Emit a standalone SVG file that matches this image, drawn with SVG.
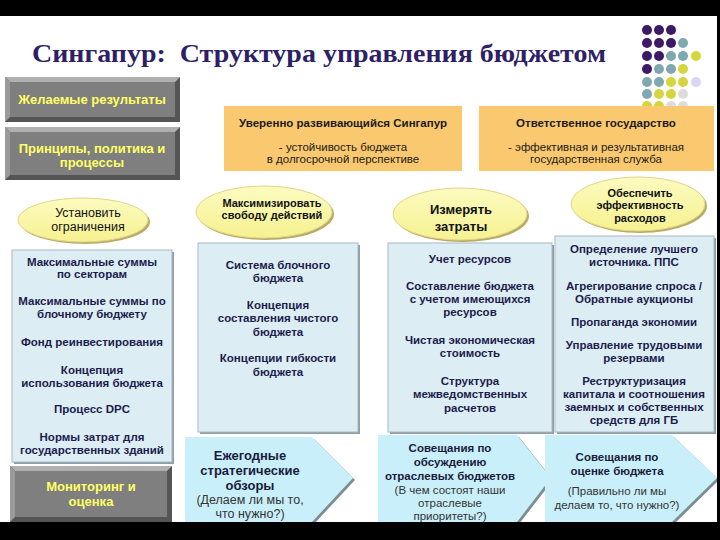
<svg xmlns="http://www.w3.org/2000/svg" width="720" height="540" viewBox="0 0 720 540">
<style>
.t{font-family:"Liberation Sans",Arial,sans-serif;text-anchor:middle}
.b{font-weight:bold}
.btn{font-size:13px;fill:#ffff66;font-weight:bold}
.lst{font-size:11.5px;fill:#1c1c4c;font-weight:bold}
.org{font-size:11.5px;fill:#1a1a1a}
.ov{font-size:11px;fill:#111;font-weight:bold}
.ar{fill:#1a1a3a}
.lbox{fill:#ddedf4;stroke:#a9b8c2;stroke-width:1}
.lsh{fill:#8e9ca6}
.oval{stroke:#e0d58a;stroke-width:1}
.osh{fill:#b9ab62}
.arr{fill:#c9f0fa}
.ash{fill:#7d8d93}
.orng{fill:#fac96f}
</style>
<defs>
<linearGradient id="og" x1="0" y1="0" x2="0" y2="1">
<stop offset="0" stop-color="#fcfbc0"/><stop offset="1" stop-color="#f6f190"/>
</linearGradient>
</defs>
<rect width="720" height="540" fill="#ffffff"/>

<g id="title">
<text x="319" y="62" font-family="Liberation Serif,Times New Roman,serif" font-weight="bold" font-size="26" fill="#2e1f66" text-anchor="middle" style="white-space:pre" xml:space="preserve" textLength="574" lengthAdjust="spacingAndGlyphs">Сингапур:  Структура управления бюджетом</text>
</g>

<g id="dots">
<circle cx="647" cy="30" r="5" fill="#3d1a66"/><circle cx="659" cy="30" r="5" fill="#3d1a66"/><circle cx="671" cy="30" r="5" fill="#3d1a66"/>
<circle cx="647" cy="43" r="5" fill="#3d1a66"/><circle cx="659" cy="43" r="5" fill="#3d1a66"/><circle cx="671" cy="43" r="5" fill="#3d1a66"/><circle cx="683" cy="43" r="5" fill="#7fa8b0"/>
<circle cx="647" cy="56" r="5" fill="#3d1a66"/><circle cx="659" cy="56" r="5" fill="#3d1a66"/><circle cx="671" cy="56" r="5" fill="#7fa8b0"/><circle cx="683" cy="56" r="5" fill="#7fa8b0"/><circle cx="696" cy="56" r="5" fill="#d6d63c"/>
<circle cx="647" cy="69" r="5" fill="#3d1a66"/><circle cx="659" cy="69" r="5" fill="#7fa8b0"/><circle cx="671" cy="69" r="5" fill="#7fa8b0"/><circle cx="683" cy="69" r="5" fill="#d6d63c"/>
<circle cx="647" cy="82" r="5" fill="#7fa8b0"/><circle cx="659" cy="82" r="5" fill="#7fa8b0"/><circle cx="671" cy="82" r="5" fill="#d6d63c"/><circle cx="683" cy="82" r="5" fill="#d6d63c"/><circle cx="696" cy="82" r="5" fill="#d8d8f2"/>
<circle cx="647" cy="94" r="5" fill="#7fa8b0"/><circle cx="659" cy="94" r="5" fill="#d6d63c"/><circle cx="671" cy="94" r="5" fill="#d6d63c"/><circle cx="683" cy="94" r="5" fill="#dcdcdc"/>
<circle cx="647" cy="106" r="5" fill="#d6d63c"/><circle cx="659" cy="106" r="5" fill="#d6d63c"/><circle cx="671" cy="106" r="5" fill="#dcdcdc"/><circle cx="683" cy="106" r="5" fill="#dcdcdc"/>
</g>

<g id="btn-results">
<rect x="5" y="77" width="175" height="45" fill="#555555"/>
<polygon points="5,77 180,77 175,82 10,82" fill="#b0b0b0"/>
<polygon points="5,77 10,82 10,117 5,122" fill="#9a9a9a"/>
<rect x="10" y="82" width="165" height="35" fill="#7f7f7f"/>
<text class="t btn" x="92" y="104">Желаемые результаты</text>
</g>

<g id="btn-principles">
<rect x="5" y="127" width="175" height="53" fill="#555555"/>
<polygon points="5,127 180,127 175,132 10,132" fill="#b0b0b0"/>
<polygon points="5,127 10,132 10,175 5,180" fill="#9a9a9a"/>
<rect x="10" y="132" width="165" height="43" fill="#7f7f7f"/>
<text class="t btn" x="92" y="153">Принципы, политика и</text>
<text class="t btn" x="92" y="167">процессы</text>
</g>

<g id="btn-monitoring">
<rect x="10" y="466" width="162" height="56" fill="#555555"/>
<polygon points="10,466 172,466 167,471 15,471" fill="#b0b0b0"/>
<polygon points="10,466 15,471 15,517 10,522" fill="#9a9a9a"/>
<rect x="15" y="471" width="152" height="46" fill="#7f7f7f"/>
<text class="t btn" x="91" y="491">Мониторинг и</text>
<text class="t btn" x="91" y="506">оценка</text>
</g>

<g id="goal-a">
<rect class="orng" x="224" y="106" width="238" height="65"/>
<text class="t org b" x="343" y="127" font-size="12.5">Уверенно развивающийся Сингапур</text>
<text class="t org" x="343" y="151">- устойчивость бюджета</text>
<text class="t org" x="343" y="163">в долгосрочной перспективе</text>
</g>

<g id="goal-b">
<rect class="orng" x="479" y="106" width="235" height="65"/>
<text class="t org b" x="596" y="127" font-size="12.5">Ответственное государство</text>
<text class="t org" x="596" y="151">- эффективная и результативная</text>
<text class="t org" x="596" y="163">государственная служба</text>
</g>

<g id="oval-limits">
<ellipse class="osh" cx="85" cy="222" rx="65" ry="22"/>
<ellipse class="oval" cx="83" cy="220" rx="65" ry="22" fill="url(#og)"/>
<text class="t" x="88" y="217" font-size="12.5" fill="#111">Установить</text>
<text class="t" x="88" y="231" font-size="12.5" fill="#111">ограничения</text>
</g>

<g id="oval-freedom">
<ellipse class="osh" cx="266" cy="214" rx="68" ry="26"/>
<ellipse class="oval" cx="264" cy="212" rx="68" ry="26" fill="url(#og)"/>
<text class="t ov" x="272" y="207">Максимизировать</text>
<text class="t ov" x="272" y="219">свободу действий</text>
</g>

<g id="oval-costs">
<ellipse class="osh" cx="462" cy="216" rx="67" ry="26"/>
<ellipse class="oval" cx="460" cy="214" rx="67" ry="26" fill="url(#og)"/>
<text class="t b" x="461" y="214" font-size="13" fill="#111">Измерять</text>
<text class="t b" x="461" y="231" font-size="13" fill="#111">затраты</text>
</g>

<g id="oval-efficiency">
<ellipse class="osh" cx="640" cy="206" rx="67" ry="27"/>
<ellipse class="oval" cx="638" cy="204" rx="67" ry="27" fill="url(#og)"/>
<text class="t ov" x="640" y="197">Обеспечить</text>
<text class="t ov" x="640" y="209">эффективность</text>
<text class="t ov" x="640" y="222">расходов</text>
</g>

<g id="list-limits">
<rect class="lsh" x="14" y="252" width="160" height="212"/>
<rect class="lbox" x="12" y="250" width="160" height="212"/>
<text class="t lst" x="92" y="266">Максимальные суммы</text>
<text class="t lst" x="92" y="278">по секторам</text>
<text class="t lst" x="92" y="305">Максимальные суммы по</text>
<text class="t lst" x="92" y="318">блочному бюджету</text>
<text class="t lst" x="92" y="346">Фонд реинвестирования</text>
<text class="t lst" x="92" y="374">Концепция</text>
<text class="t lst" x="92" y="387">использования бюджета</text>
<text class="t lst" x="92" y="413">Процесс DPC</text>
<text class="t lst" x="92" y="441">Нормы затрат для</text>
<text class="t lst" x="92" y="454">государственных зданий</text>
</g>

<g id="list-freedom">
<rect class="lsh" x="200" y="245" width="160" height="189"/>
<rect class="lbox" x="198" y="243" width="160" height="189"/>
<text class="t lst" x="278" y="269">Система блочного</text>
<text class="t lst" x="278" y="282">бюджета</text>
<text class="t lst" x="278" y="309">Концепция</text>
<text class="t lst" x="278" y="322">составления чистого</text>
<text class="t lst" x="278" y="336">бюджета</text>
<text class="t lst" x="278" y="362">Концепции гибкости</text>
<text class="t lst" x="278" y="376">бюджета</text>
</g>

<g id="list-costs">
<rect class="lsh" x="390" y="245" width="164" height="189"/>
<rect class="lbox" x="388" y="243" width="164" height="189"/>
<text class="t lst" x="470" y="263">Учет ресурсов</text>
<text class="t lst" x="470" y="290">Составление бюджета</text>
<text class="t lst" x="470" y="303">с учетом имеющихся</text>
<text class="t lst" x="470" y="316">ресурсов</text>
<text class="t lst" x="470" y="344">Чистая экономическая</text>
<text class="t lst" x="470" y="357">стоимость</text>
<text class="t lst" x="470" y="385">Структура</text>
<text class="t lst" x="470" y="398">межведомственных</text>
<text class="t lst" x="470" y="412">расчетов</text>
</g>

<g id="list-efficiency">
<rect class="lsh" x="557" y="238" width="159" height="196"/>
<rect class="lbox" x="555" y="236" width="159" height="196"/>
<text class="t lst" x="634" y="253">Определение лучшего</text>
<text class="t lst" x="634" y="266">источника. ППС</text>
<text class="t lst" x="634" y="290">Агрегирование спроса /</text>
<text class="t lst" x="634" y="303">Обратные аукционы</text>
<text class="t lst" x="634" y="326">Пропаганда экономии</text>
<text class="t lst" x="634" y="349">Управление трудовыми</text>
<text class="t lst" x="634" y="362">резервами</text>
<text class="t lst" x="634" y="385">Реструктуризация</text>
<text class="t lst" x="634" y="398">капитала и соотношения</text>
<text class="t lst" x="634" y="411">заемных и собственных</text>
<text class="t lst" x="634" y="424">средств для ГБ</text>
</g>

<g id="arrow-reviews">
<polygon class="ash" points="187,439 314,439 355,480 314,524 187,524"/>
<polygon class="arr" points="185,437 312,437 353,478 312,522 185,522"/>
<text class="t b ar" x="250" y="460" font-size="13">Ежегодные</text>
<text class="t b ar" x="250" y="475" font-size="13">стратегические</text>
<text class="t b ar" x="250" y="490" font-size="13">обзоры</text>
<text class="t" x="250" y="504" font-size="12.5" fill="#333">(Делаем ли мы то,</text>
<text class="t" x="250" y="518" font-size="12.5" fill="#333">что нужно?)</text>
</g>

<g id="arrow-sector">
<polygon class="ash" points="380,437 519,437 553,480 519,524 380,524"/>
<polygon class="arr" points="378,435 517,435 551,478 517,522 378,522"/>
<text class="t b ar" x="450" y="452" font-size="11.5">Совещания по</text>
<text class="t b ar" x="450" y="466" font-size="11.5">обсуждению</text>
<text class="t b ar" x="450" y="480" font-size="11.5">отраслевых бюджетов</text>
<text class="t" x="450" y="494" font-size="11.5" fill="#333">(В чем состоят наши</text>
<text class="t" x="450" y="507" font-size="11.5" fill="#333">отраслевые</text>
<text class="t" x="450" y="520" font-size="11.5" fill="#333">приоритеты?)</text>
</g>

<g id="arrow-evaluation">
<polygon class="ash" points="547,437 674,437 719,480 674,524 547,524"/>
<polygon class="arr" points="545,435 672,435 717,478 672,522 545,522"/>
<text class="t b ar" x="617" y="461" font-size="11.5">Совещания по</text>
<text class="t b ar" x="617" y="475" font-size="11.5">оценке бюджета</text>
<text class="t" x="617" y="495" font-size="11.5" fill="#333">(Правильно ли мы</text>
<text class="t" x="617" y="509" font-size="11.5" fill="#333">делаем то, что нужно?)</text>
</g>

<g id="connectors"/>

<g id="frame">
<rect x="0" y="0" width="720" height="16" fill="#000000"/>
<rect x="0" y="522" width="720" height="18" fill="#000000"/>
<rect x="717" y="16" width="3" height="506" fill="#000000"/>
</g>
</svg>
